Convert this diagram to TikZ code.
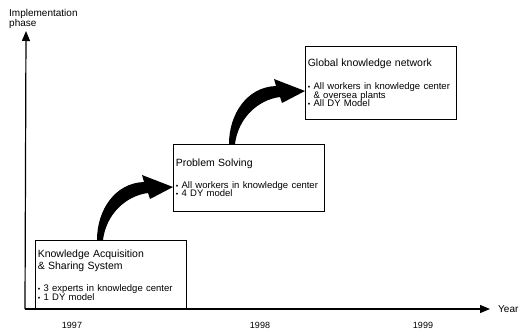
\documentclass[tikz,border=0pt]{standalone}
\usepackage{fontspec}
\setmainfont{Liberation Sans}
\usetikzlibrary{arrows.meta,calc}

\newcommand\boxtitle{\fontsize{10.5}{12}\selectfont}
\newcommand\boxitems{\fontsize{9.5}{8.5}\selectfont\lineskiplimit=-5pt}
\newcommand\dotitem{{\fontsize{7}{7}\selectfont\textbullet}\ }

\tikzset{
  phasebox/.style={draw,line width=0.6pt,anchor=north west,text width=146pt,
    inner xsep=2.5pt,inner ysep=2pt,align=left},
  axisline/.style={line width=1.2pt,-{Triangle[length=10pt,width=8pt]}},
  bigarrow/.pic={
    \fill (-3,0) .. controls (-3,-30) and (15,-57) .. (44,-58)
      -- (42,-65) -- (73,-53) -- (50,-41) -- (48,-47)
      .. controls (25,-44) and (6,-25) .. (3,0) -- cycle;
  }
}

\begin{document}
\begin{tikzpicture}[x=1pt,y=-1pt]
  \useasboundingbox (0,0) rectangle (519,334);

  \node[phasebox,minimum height=69pt] (k1) at (35,240)
    {{\boxtitle Knowledge Acquisition\\ \& Sharing System\par}\vspace{14pt}
     {\boxitems\dotitem 3 experts in knowledge center\\ \dotitem 1 DY model\par}};
  \node[phasebox,minimum height=67pt] (k2) at (173,144)
    {{\boxtitle Problem Solving\par}\vspace{13pt}
     {\boxitems\dotitem All workers in knowledge center\\ \dotitem 4 DY model\par}};
  \node[phasebox,minimum height=73pt] (k3) at (305,46)
    {{\boxtitle Global knowledge network\par}\vspace{15pt}
     {\boxitems\dotitem All workers in knowledge center\\
      \phantom{\dotitem}\& oversea plants\\ \dotitem All DY Model\par}};

  \pic at ($(k2.west |- k1.north)+(-73,0)$) {bigarrow};
  \pic at ($(k3.west |- k2.north)+(-73,0)$) {bigarrow};

  % axes
  \coordinate (o) at (25,309);
  \coordinate (xe) at (490,309);
  \coordinate (ye) at (26,31);
  \draw[axisline] (o) -- (xe);
  \draw[axisline] (o) -- (ye);

  \node[anchor=north west,align=left,inner sep=0pt,font=\fontsize{10}{10}\selectfont] (ylab) at (9,9)
    {Implementation\\phase};
  \node[anchor=west,inner sep=0pt,font=\fontsize{10}{10}\selectfont] (xlab) at (498,309) {Year};

  \node[font=\fontsize{9}{9}\selectfont] (y97) at (72,325) {1997};
  \node[font=\fontsize{9}{9}\selectfont] (y98) at (260,325) {1998};
  \node[font=\fontsize{9}{9}\selectfont] (y99) at (423,325) {1999};
\end{tikzpicture}
\end{document}
